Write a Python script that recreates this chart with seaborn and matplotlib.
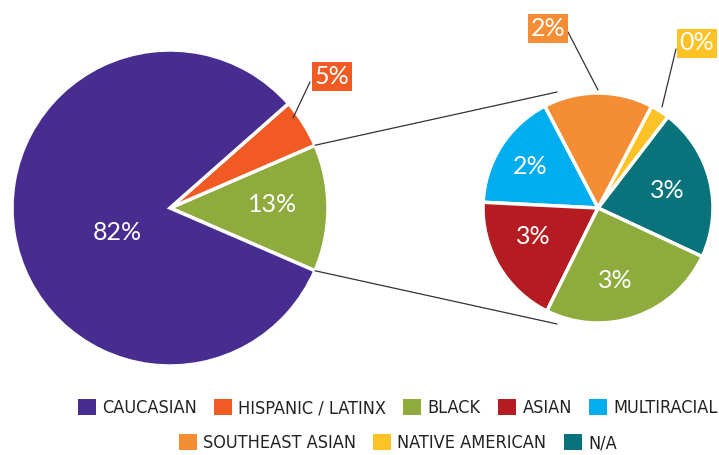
import numpy as np
import matplotlib
matplotlib.use("Agg")
import matplotlib.pyplot as plt
import matplotlib.patches as mpatches
from matplotlib import font_manager
import seaborn as sns

# main pie (left)
main_labels = ["BLACK", "HISPANIC / LATINX", "CAUCASIAN"]
main_values = [13, 5, 82]

# breakdown pie (right), counterclockwise from the N/A slice
detail_labels = ["N/A", "NATIVE AMERICAN", "SOUTHEAST ASIAN", "MULTIRACIAL", "ASIAN", "BLACK"]
detail_share = [2.8, 0.35, 2.0, 2.15, 2.4, 3.3]
detail_pct = [3, 0, 2, 2, 3, 3]

legend_row1 = ["CAUCASIAN", "HISPANIC / LATINX", "BLACK", "ASIAN", "MULTIRACIAL"]
legend_row2 = ["SOUTHEAST ASIAN", "NATIVE AMERICAN", "N/A"]

colors = {
    "CAUCASIAN": "#472d8f",
    "HISPANIC / LATINX": "#f15a22",
    "BLACK": "#8fab3e",
    "ASIAN": "#b51c22",
    "MULTIRACIAL": "#00aeef",
    "SOUTHEAST ASIAN": "#f48d34",
    "NATIVE AMERICAN": "#fdc326",
    "N/A": "#08737a",
}

sns.set_theme(style="white")
plt.rcParams["font.family"] = ["Lato", "DejaVu Sans"]

W, H = 719, 455
fig = plt.figure(figsize=(W / 100, H / 100), dpi=100)
ax = fig.add_axes([0, 0, 1, 1])
ax.set_xlim(0, W)
ax.set_ylim(0, H)
ax.set_aspect("equal")
ax.axis("off")

c1, r1 = (170, H - 208), 158
c2, r2 = (598, H - 208), 115

start1 = -main_values[0] / sum(main_values) * 360 / 2
w1, _ = ax.pie(main_values, colors=[colors[k] for k in main_labels], center=c1, radius=r1,
               startangle=start1, counterclock=True,
               wedgeprops=dict(edgecolor="white", linewidth=2.5))
w2, _ = ax.pie(detail_share, colors=[colors[k] for k in detail_labels], center=c2, radius=r2,
               startangle=-25, counterclock=True,
               wedgeprops=dict(edgecolor="white", linewidth=2.5))
ax.set_xlim(0, W)
ax.set_ylim(0, H)

# connector lines between the two pies
for ang1, ang2 in [(w1[0].theta2, 109.5), (w1[0].theta1, -109.5)]:
    a1, a2 = np.radians(ang1), np.radians(ang2)
    x0, y0 = c1[0] + r1 * np.cos(a1), c1[1] + r1 * np.sin(a1)
    x1, y1 = c2[0] + (r2 + 8) * np.cos(a2), c2[1] + (r2 + 8) * np.sin(a2)
    ax.plot([x0, x1], [y0, y1], color="#333333", lw=0.9)

txt = dict(color="white", fontsize=18, ha="center", va="center", zorder=5)

# inside labels, main pie
ax.text(117, H - 233, f"{main_values[2]}%", **txt)
ax.text(273, H - 205, f"{main_values[0]}%", **txt)

# inside labels, detail pie
inside_pos = {"N/A": (667, 190), "MULTIRACIAL": (530, 167), "ASIAN": (533, 237), "BLACK": (615, 280)}
for lab, pct in zip(detail_labels, detail_pct):
    if lab in inside_pos:
        x, y = inside_pos[lab]
        ax.text(x, H - y, f"{pct}%", **txt)

# callouts with boxes
callouts = [
    ("HISPANIC / LATINX", main_values[1], (332, 76), (293, 118), (310, 82)),
    ("SOUTHEAST ASIAN", detail_pct[2], (548, 28), (598, 90), (568, 32)),
    ("NATIVE AMERICAN", detail_pct[1], (697, 43), (662, 107), (676, 49)),
]
for lab, pct, (tx, ty), (lx0, ly0), (lx1, ly1) in callouts:
    ax.plot([lx0, lx1], [H - ly0, H - ly1], color="#333333", lw=0.9)
    ax.text(tx, H - ty, f"{pct}%", color="white", fontsize=18, ha="center", va="center",
            zorder=5,
            bbox=dict(boxstyle="square,pad=0.12", facecolor=colors[lab], edgecolor="none"))

# legend in two rows
leg_font = font_manager.FontProperties(family=["DejaVu Sans"], stretch="condensed", size=13)
for row, ypos in [(legend_row1, 0.103), (legend_row2, 0.026)]:
    handles = [mpatches.Patch(facecolor=colors[k], edgecolor="none", label=k) for k in row]
    leg = fig.legend(handles=handles, loc="center", bbox_to_anchor=(0.553, ypos), ncol=len(row),
                     frameon=False, prop=leg_font, handlelength=1.0, handleheight=1.0,
                     handletextpad=0.35, columnspacing=0.95, borderaxespad=0)
    for t in leg.get_texts():
        t.set_color("#222222")

fig.savefig("out.png", dpi=100)
